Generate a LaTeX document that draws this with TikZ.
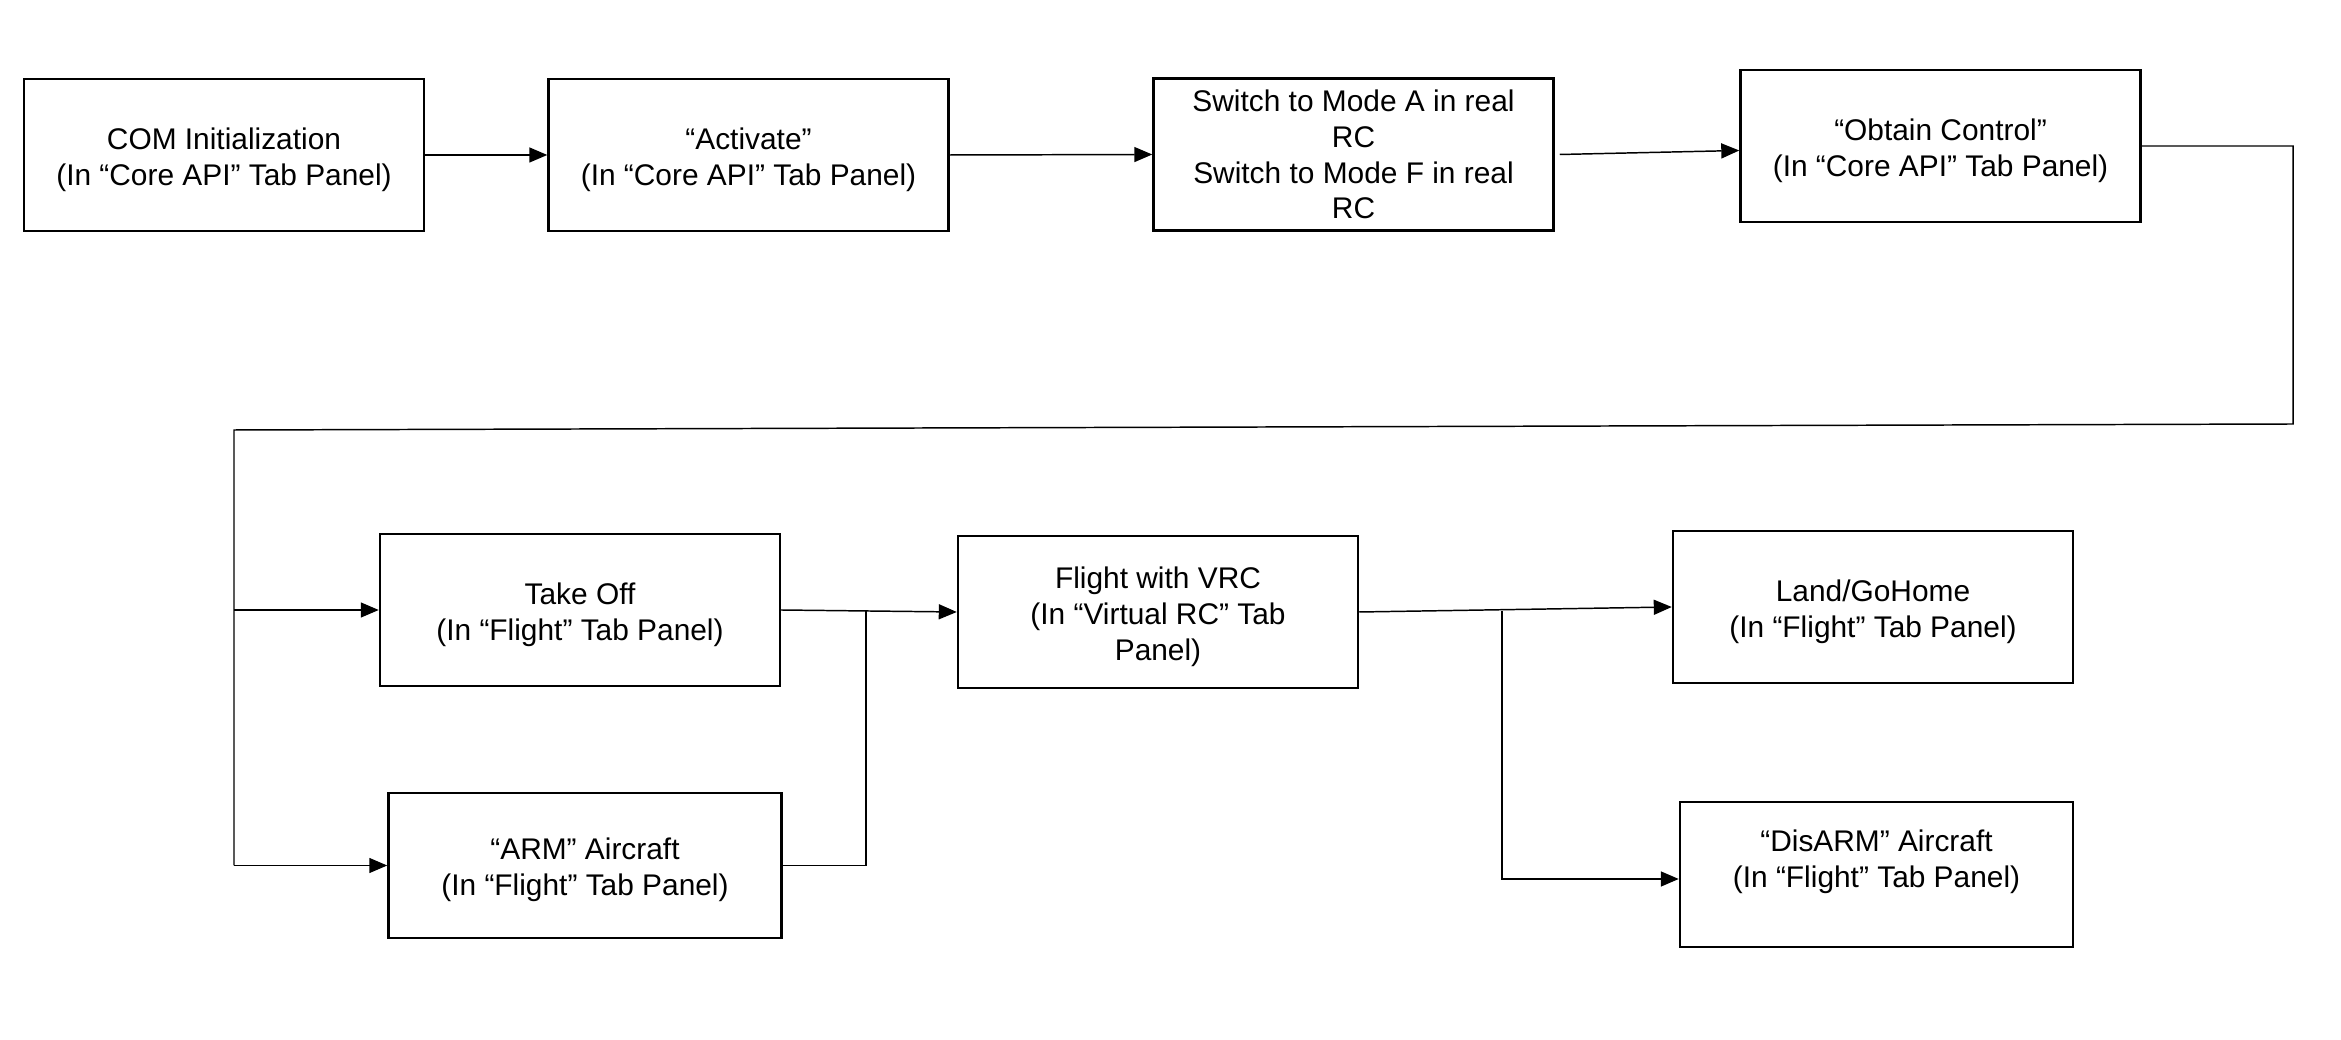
\documentclass[tikz,border=0pt]{standalone}
\usepackage{fontspec}
\setmainfont{Liberation Sans}
\usetikzlibrary{arrows.meta}

\begin{document}
\begin{tikzpicture}[line width=0.42pt,>={Triangle[length=0.18cm,width=0.15cm]},
    box/.style={draw,line width=0.7pt,minimum width=4cm,minimum height=1.52cm,inner sep=2pt,align=center,font=\fontsize{8.5}{10.2}\selectfont,text height=19pt},
    tallbox/.style={box,text height=},
    lowbox/.style={box,minimum width=3.93cm,minimum height=1.45cm}]
            \useasboundingbox (0,0) rectangle (23.41,10.39);

            \node[box] (com) at (2.24,8.84) {COM Initialization\\(In “Core API” Tab Panel)};
            \node[box] (act) at (7.485,8.84) {“Activate”\\(In “Core API” Tab Panel)};
            \node[tallbox] (sw) at (13.535,8.845) {Switch to Mode A in real\\RC\\Switch to Mode F in real\\RC};
            \node[box] (obt) at (19.405,8.93) {“Obtain Control”\\(In “Core API” Tab Panel)};

            \node[box] (tkoff) at (5.80,4.29) {Take Off\\(In “Flight” Tab Panel)};
            \node[lowbox] (arm) at (5.85,1.735) {“ARM” Aircraft\\(In “Flight” Tab Panel)};
            \node[box,text height=29.2pt] (vrc) at (11.58,4.27) {Flight with VRC\\(In “Virtual RC” Tab\\Panel)};
            \node[box] (land) at (18.73,4.32) {Land/GoHome\\(In “Flight” Tab Panel)};
            \node[lowbox,text depth=11.8pt] (dis) at (18.765,1.645) {“DisARM” Aircraft\\(In “Flight” Tab Panel)};

            \foreach \a/\b in {com/act,act/sw}{
                \draw[->] (\a.east)--(\b.west);
            }
            \draw[->] ([xshift=0.05cm]sw.east)--([yshift=-0.045cm]obt.west);

            \coordinate (turnr) at (22.93,6.15);
            \coordinate (turnl) at (2.34,6.09);
            \draw (obt.east)-|(turnr)--(turnl)--(turnl|-arm.west);
            \draw[->] (turnl|-tkoff.west)--(tkoff.west);
            \draw[->] (turnl|-arm.west)--(arm.west);

            \coordinate (join) at (8.66,4.29);
            \draw[->] (tkoff.east)--(vrc.west);
            \draw (arm.east)-|(join);

            \coordinate (split) at (15.02,4.28);
            \draw[->] (vrc.east)--(land.west);
            \draw[->] (split)|-([yshift=-0.045cm]dis.west);
\end{tikzpicture}
\end{document}
